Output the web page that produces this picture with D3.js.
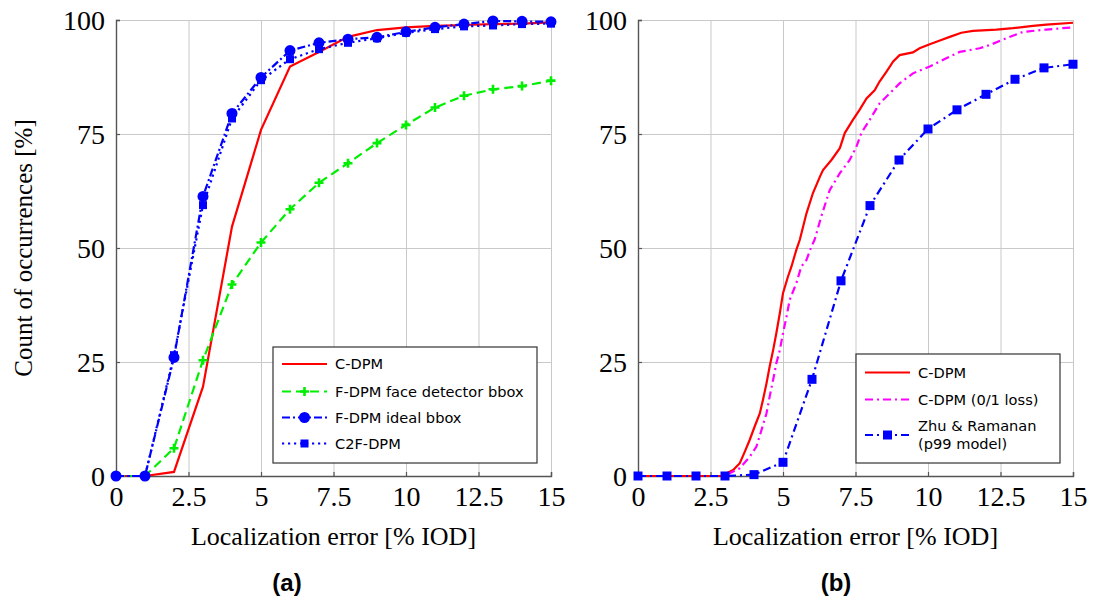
<!DOCTYPE html>
<html>
<head>
<meta charset="utf-8">
<script src="https://cdn.jsdelivr.net/npm/d3@7"></script>
<style>
  body { margin: 0; background: #fff; }
  .tick text { font-family: "Liberation Serif", serif; font-size: 28px; fill: #000; }
  .legend text { font-family: "DejaVu Sans", sans-serif; font-size: 14.6px; fill: #000; }
</style>
</head>
<body>
<div id="GraphHolder"></div>
<script>
// tick values (shared by both panels)
var xTicks = [0, 2.5, 5, 7.5, 10, 12.5, 15];
var yTicks = [0, 25, 50, 75, 100];

// panel (a): values at integer errors 0..15
var errA = [0, 1, 2, 3, 4, 5, 6, 7, 8, 9, 10, 11, 12, 13, 14, 15];
var cdpmA = [0, 0, 0.9, 19.6, 54.7, 75.9, 89.8, 93, 96.3, 97.8, 98.4, 98.7, 98.9, 99.1, 99.2, 99.5];
var faceA = [0, 0, 6.1, 25.4, 42, 51.2, 58.5, 64.3, 68.6, 73, 77, 80.8, 83.4, 84.8, 85.5, 86.7];
var idealA = [0, 0, 26, 61.3, 79.5, 87.4, 93.3, 95.0, 95.8, 96.2, 97.4, 98.4, 99.1, 99.8, 99.7, 99.6];
var c2fA = [0, 0, 26.5, 59.4, 78.4, 86.8, 91.4, 93.6, 95.0, 96.0, 97.2, 98.0, 98.6, 98.8, 99.1, 99.2];

// panel (b): C-DPM curve
var cdpmBX = [0, 3.0, 3.05, 3.28, 3.51, 3.68, 3.85, 4.02, 4.20, 4.31, 4.43, 4.54, 4.66, 4.77, 4.89, 5.0, 5.17, 5.29, 5.46, 5.58, 5.81, 6.03, 6.27, 6.38, 6.67, 6.96, 7.13, 7.41, 7.64, 7.88, 8.16, 8.33, 8.57, 8.8, 9.02, 9.48, 9.71, 10.06, 10.41, 10.75, 11.15, 11.55, 12.36, 12.93, 13.62, 14.08, 15];
var cdpmBY = [0, 0, 0.6, 1.3, 2.8, 5.3, 7.9, 10.8, 13.7, 16.7, 20.3, 24.0, 27.6, 31.3, 35.7, 40.1, 43.7, 45.9, 49.6, 51.8, 57.6, 62.0, 65.6, 67.1, 69.3, 71.9, 75.2, 78.1, 80.3, 82.8, 84.6, 86.5, 88.7, 90.9, 92.3, 92.9, 93.8, 94.7, 95.5, 96.3, 97.2, 97.6, 97.9, 98.2, 98.7, 99.0, 99.4];
// C-DPM (0/1 loss)
var lossBX = [0, 3.0, 3.16, 3.51, 3.85, 4.08, 4.26, 4.43, 4.54, 4.66, 4.77, 4.89, 5.0, 5.12, 5.23, 5.46, 5.63, 5.81, 5.98, 6.09, 6.32, 6.61, 6.96, 7.3, 7.53, 7.7, 7.99, 8.33, 8.68, 9.02, 9.48, 10.06, 10.63, 11.09, 11.78, 12.13, 12.7, 13.28, 14.08, 15];
var lossBY = [0, 0, 0.6, 1.7, 4.2, 6.4, 10.1, 13.7, 17.4, 21.1, 24.7, 27.6, 31.3, 34.9, 38.6, 42.3, 45.9, 47.4, 50.3, 51.8, 56.9, 62.7, 66.4, 69.3, 72.2, 75.2, 78.1, 81.7, 83.9, 86.1, 88.3, 89.8, 91.6, 93.0, 93.8, 94.5, 96.0, 97.4, 97.9, 98.4];
// Zhu & Ramanan at integer errors
var errB = [0, 1, 2, 3, 4, 5, 6, 7, 8, 9, 10, 11, 12, 13, 14, 15];
var zhuB = [0, 0, 0, 0, 0.3, 3.0, 21.2, 42.8, 59.3, 69.3, 76.1, 80.3, 83.7, 87.0, 89.5, 90.3];

var W = 1101, H = 604;
var top_ = 20, bottom_ = 476;

var svg = d3.select("#GraphHolder").append("svg")
    .attr("width", W)
    .attr("height", H)
    .style("display", "block");

function zip(xs, ys) {
    return xs.map(function(v, i) { return [v, ys[i]]; });
}

function drawPanel(left, right, series, legend, yTitle, caption) {
    var x = d3.scaleLinear().domain([0, 15]).range([left, right]);
    var y = d3.scaleLinear().domain([0, 100]).range([bottom_, top_]);
    var g = svg.append("g");

    // grid lines
    g.append("g")
        .attr("transform", "translate(0," + bottom_ + ")")
        .call(d3.axisBottom(x).tickValues(xTicks).tickSize(-(bottom_ - top_)).tickFormat(""))
        .call(function(a) { a.select(".domain").remove(); })
        .selectAll("line").attr("stroke", "#c9c9c9").attr("stroke-width", 1);
    g.append("g")
        .attr("transform", "translate(" + left + ",0)")
        .call(d3.axisLeft(y).tickValues(yTicks).tickSize(-(right - left)).tickFormat(""))
        .call(function(a) { a.select(".domain").remove(); })
        .selectAll("line").attr("stroke", "#c9c9c9").attr("stroke-width", 1);

    // axes with labels
    var xa = g.append("g")
        .attr("transform", "translate(0," + bottom_ + ")")
        .call(d3.axisBottom(x).tickValues(xTicks).tickSize(-4).tickFormat(function(d) { return d; }));
    xa.selectAll("text").attr("y", 30).attr("dy", 0);
    var ya = g.append("g")
        .attr("transform", "translate(" + left + ",0)")
        .call(d3.axisLeft(y).tickValues(yTicks).tickSize(-4).tickFormat(function(d) { return d; }));
    ya.selectAll("text").attr("x", -11).attr("dy", "0.34em");
    [xa, ya].forEach(function(a) {
        a.select(".domain").attr("stroke", "#555").attr("stroke-width", 1.4);
        a.selectAll(".tick line").attr("stroke", "#555").attr("stroke-width", 1.2);
    });

    // series lines
    var line = d3.line().x(function(d) { return x(d[0]); }).y(function(d) { return y(d[1]); });
    series.forEach(function(s) {
        g.append("path")
            .datum(s.pts)
            .attr("fill", "none")
            .attr("stroke", s.color)
            .attr("stroke-width", 2.2)
            .attr("stroke-dasharray", s.dash)
            .attr("d", line);
        if (s.marker) {
            g.selectAll(null)
                .data(s.pts)
                .enter().append("path")
                .attr("transform", function(d) { return "translate(" + x(d[0]) + "," + y(d[1]) + ")"; })
                .call(markerStyle, s);
        }
    });

    // legend
    var lg = g.append("g").attr("class", "legend");
    lg.append("rect")
        .attr("x", legend.x).attr("y", legend.y)
        .attr("width", legend.w).attr("height", legend.h)
        .attr("fill", "#fff").attr("stroke", "#333").attr("stroke-width", 1.2);
    series.forEach(function(s, i) {
        var cy = legend.rows[i];
        lg.append("line")
            .attr("x1", legend.x + 9).attr("x2", legend.x + 54)
            .attr("y1", cy).attr("y2", cy)
            .attr("stroke", s.color).attr("stroke-width", 2.2)
            .attr("stroke-dasharray", s.dash);
        if (s.marker) {
            lg.append("path")
                .attr("transform", "translate(" + (legend.x + 31.5) + "," + cy + ")")
                .call(markerStyle, s);
        }
        var t = lg.append("text")
            .attr("x", legend.x + 62)
            .attr("y", cy)
            .attr("dy", s.label.length > 1 ? "-0.25em" : "0.36em");
        s.label.forEach(function(txt, k) {
            t.append("tspan").attr("x", legend.x + 62)
                .attr("dy", k === 0 ? null : "1.22em")
                .text(txt);
        });
    });

    // axis titles
    g.append("text")
        .attr("x", (left + right) / 2)
        .attr("y", 545)
        .attr("text-anchor", "middle")
        .style("font-family", "Liberation Serif, serif")
        .style("font-size", "26px")
        .text("Localization error [% IOD]");
    if (yTitle) {
        g.append("text")
            .attr("transform", "translate(31.5," + ((top_ + bottom_) / 2) + ") rotate(-90)")
            .attr("text-anchor", "middle")
            .style("font-family", "Liberation Serif, serif")
            .style("font-size", "25px")
            .text(yTitle);
    }
    g.append("text")
        .attr("x", caption.x)
        .attr("y", 591)
        .attr("text-anchor", "middle")
        .style("font-family", "Liberation Sans, sans-serif")
        .style("font-weight", "bold")
        .style("font-size", "24px")
        .text(caption.text);
}

function markerStyle(sel, s) {
    if (s.marker === "circle") {
        sel.attr("d", d3.symbol(d3.symbolCircle, 95)).attr("fill", s.color);
    } else if (s.marker === "square") {
        sel.attr("d", d3.symbol(d3.symbolSquare, s.size || 64)).attr("fill", s.color);
    } else if (s.marker === "plus") {
        sel.attr("d", "M-4.5,0H4.5M0,-4.5V4.5").attr("fill", "none")
            .attr("stroke", s.color).attr("stroke-width", 2.6);
    }
}

drawPanel(116, 551, [
    {pts: zip(errA, cdpmA), color: "#ff0000", dash: null, label: ["C-DPM"]},
    {pts: zip(errA, faceA), color: "#00ee00", dash: "9,5", marker: "plus", label: ["F-DPM face detector bbox"]},
    {pts: zip(errA, idealA), color: "#0000ff", dash: "8,3,2,3", marker: "circle", label: ["F-DPM ideal bbox"]},
    {pts: zip(errA, c2fA), color: "#0000ff", dash: "2.2,3.8", marker: "square", size: 64, label: ["C2F-DPM"]}
], {x: 273, y: 347, w: 264, h: 116, rows: [364, 391.5, 417.5, 443.5]},
   "Count of occurrences [%]", {x: 287, text: "(a)"});

drawPanel(638, 1073, [
    {pts: zip(cdpmBX, cdpmBY), color: "#ff0000", dash: null, label: ["C-DPM"]},
    {pts: zip(lossBX, lossBY), color: "#ff00ff", dash: "8,4,2,4", label: ["C-DPM (0/1 loss)"]},
    {pts: zip(errB, zhuB), color: "#0000ff", dash: "8,4,2,4", marker: "square", size: 81, label: ["Zhu & Ramanan", "(p99 model)"]}
], {x: 856, y: 354, w: 204, h: 109, rows: [372.5, 399.5, 435]},
   null, {x: 836, text: "(b)"});
</script>
</body>
</html>
